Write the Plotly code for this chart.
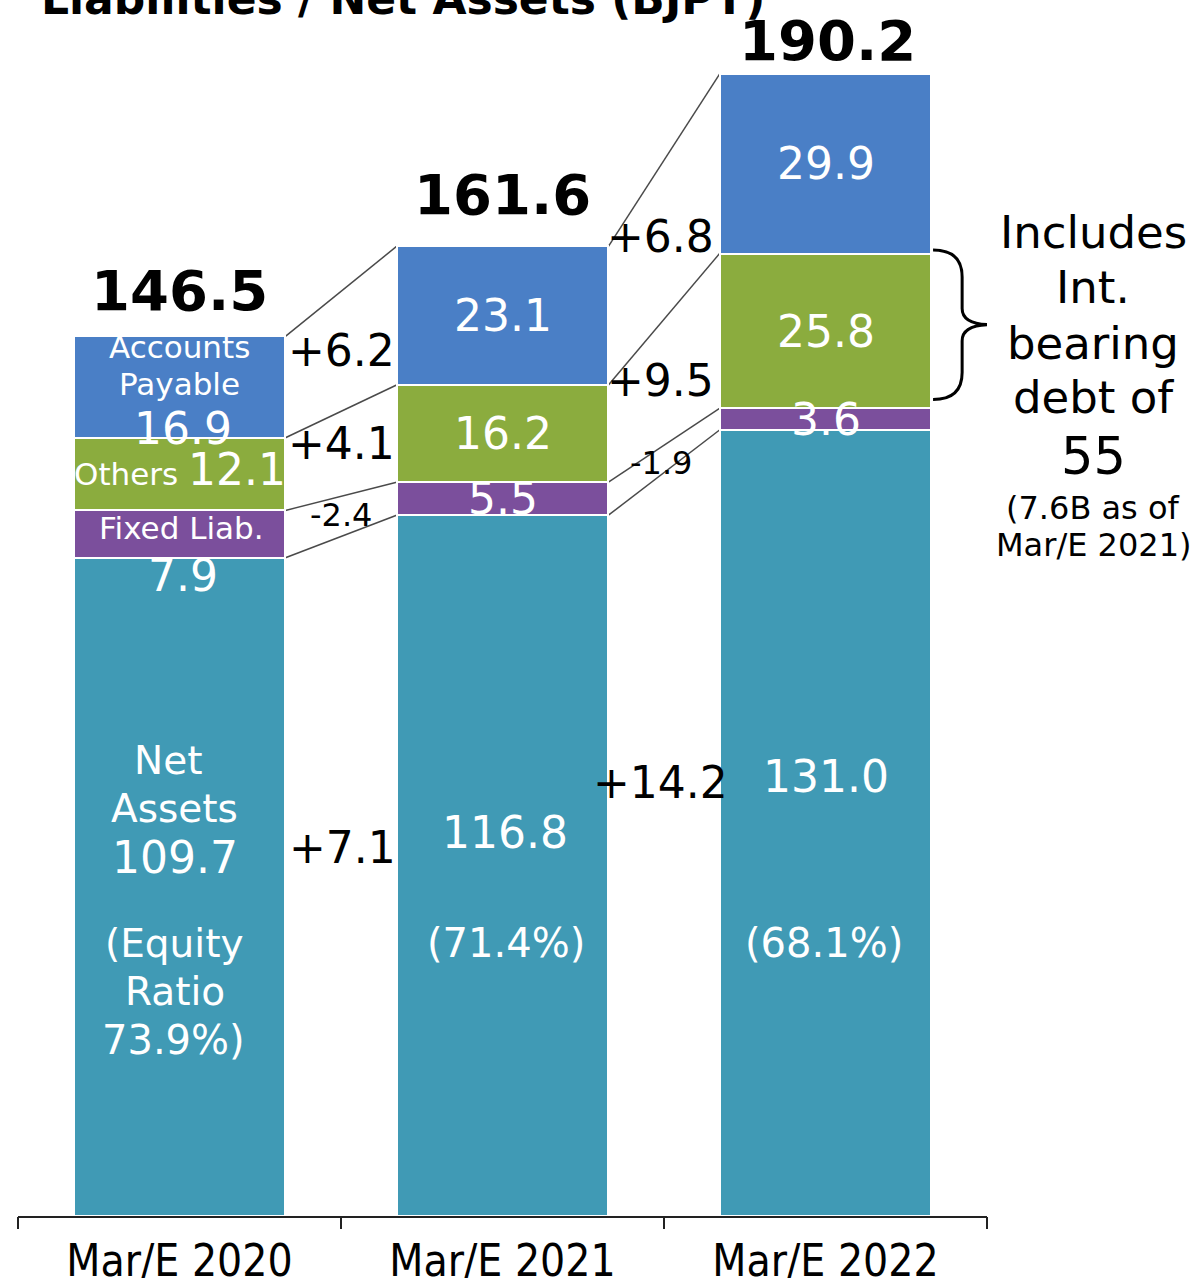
import plotly.graph_objects as go

# Balance-sheet composition, billions of JPY
categories = ["Mar/E 2020", "Mar/E 2021", "Mar/E 2022"]
net_assets = [109.7, 116.8, 131.0]
fixed_liab = [7.9, 5.5, 3.6]
other_liab = [12.1, 16.2, 25.8]
accounts_payable = [16.9, 23.1, 29.9]
totals = ["146.5", "161.6", "190.2"]
equity_ratio = ["73.9%", "71.4%", "68.1%"]
# year-on-year changes as reported (net assets, fixed liab., others, payables)
change_2021 = ["+7.1", "-2.4", "+4.1", "+6.2"]
change_2022 = ["+14.2", "-1.9", "+9.5", "+6.8"]
interest_bearing_debt = "55"
prior_debt_note = ["(7.6B as of", "Mar/E 2021)"]

FONT = "DejaVu Sans"
BAR_W = 0.656
COLORS = {
    "net": "#409AB5",
    "fixed": "#7B4F9C",
    "other": "#8BAC3E",
    "ap": "#4A7FC6",
}

xs = list(range(len(categories)))
fig = go.Figure()
for name, vals, key in [
    ("Net Assets", net_assets, "net"),
    ("Fixed Liab.", fixed_liab, "fixed"),
    ("Others", other_liab, "other"),
    ("Accounts Payable", accounts_payable, "ap"),
]:
    fig.add_trace(go.Bar(
        x=xs, y=vals, name=name, width=BAR_W,
        marker=dict(color=COLORS[key], line=dict(color="white", width=2)),
        showlegend=False, hoverinfo="skip",
    ))

# invisible trace carrying the boundary tick axis
fig.add_trace(go.Scatter(x=[None], y=[None], xaxis="x2", showlegend=False,
                         hoverinfo="skip"))

# connector lines between the tops of matching segments
stacks = [net_assets, fixed_liab, other_liab, accounts_payable]
tops = []
for i in range(len(categories)):
    run, col = 0.0, []
    for s in stacks:
        run += s[i]
        col.append(run)
    tops.append(col)
for i in range(len(categories) - 1):
    for k in range(len(stacks)):
        fig.add_shape(type="line", xref="x", yref="y",
                      x0=i + BAR_W / 2, y0=tops[i][k],
                      x1=i + 1 - BAR_W / 2, y1=tops[i + 1][k],
                      line=dict(color="#4a4a4a", width=1.5), layer="below")

# curly brace next to the 2022 "others" block
gx0 = 2 + BAR_W / 2 + 0.005
ybot = tops[2][1] + 1.5
ytop = tops[2][2] + 0.6
ymid = (ybot + ytop) / 2
xs_ = gx0 + 0.09
xt = gx0 + 0.18
d = 4.5
path = (f"M {gx0},{ytop} Q {xs_},{ytop} {xs_},{ytop - d} "
        f"L {xs_},{ymid + d * 0.6} Q {xs_},{ymid} {xt},{ymid} "
        f"Q {xs_},{ymid} {xs_},{ymid - d * 0.6} "
        f"L {xs_},{ybot + d} Q {xs_},{ybot} {gx0},{ybot}")
fig.add_shape(type="path", xref="x", yref="y", path=path,
              line=dict(color="black", width=3))


def label(x, y, text, size, color="white", bold=False, ref="data"):
    if bold:
        text = f"<b>{text}</b>"
    xr, yr = ("x", "y") if ref == "data" else ("paper", "paper")
    fig.add_annotation(x=x, y=y, xref=xr, yref=yr, text=text,
                       showarrow=False, xanchor="center", yanchor="middle",
                       font=dict(family=FONT, size=size, color=color))


# title (sits partly above the page edge)
label(0.397, 1.0016, "Liabilities / Net Assets (BJPY)", 44, "black",
      bold=True, ref="paper")

# totals above bars
label(0.0, 154.2, totals[0], 56, "black", bold=True)
label(1.0, 170.2, totals[1], 56, "black", bold=True)
label(2.005, 196.0, totals[2], 56, "black", bold=True)

# 2020 bar with category names
label(0.0, 144.8, "Accounts", 31)
label(0.0, 138.7, "Payable", 31)
label(0.01, 131.3, f"{accounts_payable[0]}", 44)
label(0.0, 124.5, f"Others <span style='font-size:44px'>{other_liab[0]}</span>", 31)
label(0.005, 114.7, "Fixed Liab.", 31)
label(0.01, 106.7, f"{fixed_liab[0]}", 44)
label(-0.035, 76.0, "Net", 39)
label(-0.015, 68.0, "Assets", 39)
label(-0.015, 59.7, f"{net_assets[0]}", 44)
label(-0.015, 45.5, "(Equity", 39)
label(-0.015, 37.5, "Ratio", 39)
label(-0.018, 29.3, f"{equity_ratio[0]})", 40)

# 2021 / 2022 segment values at segment centres
for i in (1, 2):
    base = 0.0
    for k, s in enumerate(stacks):
        if k > 0:
            label(i, base + s[i] / 2, f"{s[i]:.1f}", 44)
        base += s[i]
label(1.008, 64.0, f"{net_assets[1]:.1f}", 44)
label(1.01, 45.5, f"({equity_ratio[1]})", 40)
label(2.0, 73.2, f"{net_assets[2]:.1f}", 44)
label(1.995, 45.5, f"({equity_ratio[2]})", 40)

# changes between periods
chg_y_2021 = [61.5, 116.8, 128.8, 144.3]
chg_y_2022 = [72.3, 125.5, 139.3, 163.3]
for k in range(4):
    sz = 32 if change_2021[k].startswith("-") else 44
    label(0.505 if k == 0 else 0.5, chg_y_2021[k], change_2021[k], sz, "black")
    sz = 32 if change_2022[k].startswith("-") else 44
    label(1.49, chg_y_2022[k], change_2022[k], sz, "black")

# interest-bearing debt note, right of the plot area
note_x = 1.1094
for y, txt, sz in [
    (0.8092, "Includes", 45),
    (0.7632, "Int.", 45),
    (0.7179, "bearing", 45),
    (0.6727, "debt of", 45),
    (0.6250, interest_bearing_debt, 51),
    (0.5822, prior_debt_note[0], 32),
    (0.5518, prior_debt_note[1], 32),
]:
    label(note_x, y, txt, sz, "black", ref="paper")

fig.update_layout(
    width=1193, height=1278,
    margin=dict(l=18, r=206, t=0, b=62, autoexpand=False),
    paper_bgcolor="white", plot_bgcolor="white",
    barmode="stack", bargap=0,
    font=dict(family=FONT, color="black"),
    xaxis=dict(range=[-0.5, 2.5], tickvals=xs, ticktext=categories,
               ticks="", showline=True, linecolor="#222", linewidth=2,
               showgrid=False, zeroline=False, ticklabelstandoff=5,
               automargin=False,
               tickfont=dict(family="DejaVu Sans Condensed, DejaVu Sans",
                             size=44, color="black")),
    xaxis2=dict(range=[-0.5, 2.5], overlaying="x", anchor="y", side="bottom",
                tickvals=[-0.5, 0.5, 1.5, 2.5], ticks="outside", ticklen=12,
                tickwidth=2, tickcolor="#222", showticklabels=False,
                automargin=False,
                showgrid=False, zeroline=False, showline=False),
    yaxis=dict(range=[0, 1216 / 6], visible=False, showgrid=False,
               zeroline=False, automargin=False),
)

fig.write_html("out.html")
